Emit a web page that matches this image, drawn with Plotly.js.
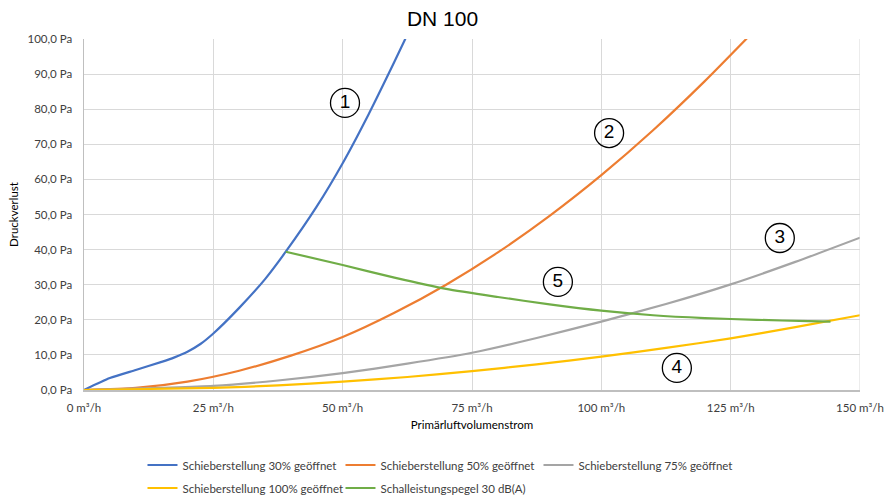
<!DOCTYPE html>
<html><head><meta charset="utf-8">
<script src="https://cdn.plot.ly/plotly-3.0.1.min.js"></script>
<style>html,body{margin:0;padding:0;background:#fff}#chart{width:885px;height:497px}</style>
</head><body><div id="chart"></div>
<script>
const seriesNames = ["Schieberstellung 30% geöffnet","Schieberstellung 50% geöffnet","Schieberstellung 75% geöffnet","Schieberstellung 100% geöffnet","Schalleistungspegel 30 dB(A)"];
const x30 = [0,5,10,15,17.5,20,22.5,25,30,35,39,45,50,55,60,65];
const y30 = [0,3.4,5.7,8.0,9.3,10.9,13.1,16.1,23.4,31.6,39.4,52.3,64.6,78.5,93.5,109];
const x50 = [0,10,20,30,40,50,60,70,80,90,100,110,120,130];
const y50 = [0,0.6,2.4,5.5,9.8,15.1,22,30,39.2,49.6,61.2,74,88,103];
const x75 = [0,25,37.5,50,62.5,75,87.5,100,112.5,125,137.5,150];
const y75 = [0,1.2,2.7,4.8,7.5,10.6,14.8,19.5,24.5,30.1,36.5,43.4];
const x100 = [0,25,37.5,50,62.5,75,87.5,100,112.5,125,137.5,150];
const y100 = [0,0.6,1.3,2.4,3.7,5.4,7.3,9.5,12.0,14.7,17.9,21.3];
const xSound = [39,50,60,70,80,90,100,110,120,130,140,144.3];
const ySound = [39.4,35.6,32.0,28.8,26.5,24.4,22.6,21.3,20.5,20.0,19.6,19.5];
const labelText = ["1","2","3","4","5"];
const labelX = [50.45,101.5,134.5,114.6,91.6];
const labelY = [81.8,73.2,43.3,6.3,30.8];
const xTicks = [0,25,50,75,100,125,150];
const yTicks = [0,10,20,30,40,50,60,70,80,90,100];

const colors = ["#4472c4","#ed7d31","#a5a5a5","#ffc000","#70ad47"];
const legendOf = ["legend","legend","legend","legend2","legend2"];
const xs = [x30,x50,x75,x100,xSound];
const ys = [y30,y50,y75,y100,ySound];
const traces = xs.map((xv,i)=>({
  x: xv, y: ys[i], name: seriesNames[i], type:'scatter', mode:'lines', legend: legendOf[i],
  line:{color:colors[i], width:2.2, shape:'spline', smoothing:0.6}
}));
traces.push({
  x: labelX, y: labelY, text: labelText, type:'scatter', mode:'markers+text',
  showlegend:false, hoverinfo:'skip',
  marker:{symbol:'circle', size:29, color:'rgba(255,255,255,0)', line:{color:'#000', width:1.3}},
  textposition:'middle center', textfont:{family:'Liberation Sans, Arial', size:19, color:'#000'}
});
const legendBase = {orientation:'h', xanchor:'left', xref:'container', yref:'container', yanchor:'middle',
  entrywidth:153, entrywidthmode:'pixels', font:{size:11.5, color:'#404040'}, traceorder:'normal', itemwidth:30,
  bgcolor:'rgba(0,0,0,0)'};
const layout = {
  width:885, height:497,
  margin:{l:84, r:25, t:39, b:107},
  separators:',.',
  paper_bgcolor:'#fff', plot_bgcolor:'#fff',
  font:{family:'Lato, Liberation Sans, Arial', size:11.5, color:'#404040'},
  title:{text:'DN 100', x:0.5, xanchor:'center', y:0.963, yanchor:'middle', font:{family:'Liberation Sans, Arial', size:21, color:'#000'}},
  xaxis:{range:[0,150], tickvals:xTicks, ticktext:xTicks.map(v=>v+' m³/h'), showgrid:true, gridcolor:'#d9d9d9', gridwidth:1,
    zeroline:false, showline:true, linecolor:'#bfbfbf', linewidth:2, ticks:'outside', ticklen:6, tickcolor:'rgba(0,0,0,0)',
    tickfont:{size:11.5, color:'#404040'},
    title:{text:'Primärluftvolumenstrom', font:{size:11.5, color:'#000'}, standoff:8}, fixedrange:true, mirror:false},
  yaxis:{range:[0,100], tickvals:yTicks, ticktext:yTicks.map(v=>v+',0 Pa'), showgrid:true, gridcolor:'#d9d9d9', gridwidth:1,
    zeroline:false, showline:true, linecolor:'#bfbfbf', linewidth:1.5, ticks:'outside', ticklen:8, tickcolor:'rgba(0,0,0,0)',
    tickfont:{size:11.5, color:'#404040'},
    title:{text:'Druckverlust', font:{size:11.5, color:'#000'}, standoff:6}, fixedrange:true},
  shapes:[{type:'line', xref:'x', yref:'y', x0:150, x1:150, y0:0, y1:100, line:{color:'#d9d9d9', width:1}}],
  showlegend:true,
  legend: Object.assign({}, legendBase, {x:0.161, y:1-465/497}),
  legend2: Object.assign({}, legendBase, {x:0.161, y:1-488/497})
};
Plotly.newPlot('chart', traces, layout, {displayModeBar:false, staticPlot:true});
</script></body></html>
